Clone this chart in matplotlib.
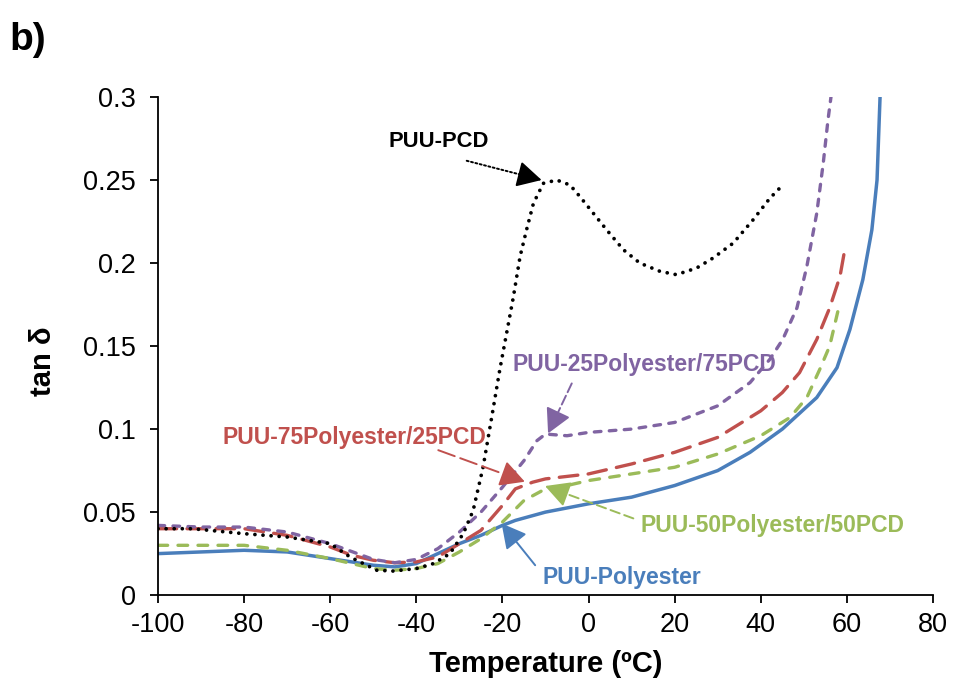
import numpy as np
import matplotlib.pyplot as plt

plt.rcParams['font.family'] = ['Liberation Sans', 'DejaVu Sans']
plt.rcParams['axes.unicode_minus'] = False

# PUU-Polyester (solid blue)
t_pe = [-100, -90, -80, -70, -60, -50, -45, -40, -35, -30, -25, -20, -17, -10, 0, 10, 20, 30, 37.5, 45, 53, 57.7, 60.7, 63.7, 65.8, 67, 67.7]
v_pe = [0.025, 0.026, 0.027, 0.026, 0.022, 0.018, 0.017, 0.019, 0.025, 0.031, 0.036, 0.042, 0.045, 0.050, 0.055, 0.059, 0.066, 0.075, 0.086, 0.100, 0.119, 0.137, 0.160, 0.190, 0.220, 0.250, 0.300]

# PUU-50Polyester/50PCD (green dash)
t_50 = [-100, -90, -80, -70, -60, -50, -45, -40, -35, -30, -25, -20, -15, -10, -5, 0, 10, 20, 30, 40, 46.8, 50.7, 53.7, 56, 58]
v_50 = [0.030, 0.030, 0.030, 0.027, 0.022, 0.016, 0.015, 0.016, 0.019, 0.026, 0.034, 0.044, 0.057, 0.064, 0.066, 0.069, 0.073, 0.077, 0.085, 0.096, 0.107, 0.119, 0.136, 0.150, 0.172]

# PUU-75Polyester/25PCD (red long dash)
t_75 = [-100, -90, -80, -70, -60, -55, -50, -45, -40, -35, -30, -25, -20, -17, -13, -10, 0, 10, 20, 30, 40, 45, 49, 53, 56, 58.4, 59.5]
v_75 = [0.040, 0.040, 0.040, 0.036, 0.029, 0.024, 0.021, 0.0195, 0.020, 0.023, 0.031, 0.039, 0.054, 0.064, 0.068, 0.070, 0.073, 0.079, 0.086, 0.095, 0.111, 0.122, 0.134, 0.154, 0.173, 0.192, 0.208]

# PUU-25Polyester/75PCD (purple short dash)
t_25 = [-100, -90, -80, -70, -60, -50, -45, -40, -35, -30, -25, -20, -15, -12, -10, -5, 0, 10, 20, 30, 37.5, 42.1, 45.1, 48.4, 50.7, 53, 54.5, 55.6, 56.3]
v_25 = [0.042, 0.041, 0.041, 0.038, 0.031, 0.0215, 0.0195, 0.0215, 0.028, 0.038, 0.050, 0.065, 0.081, 0.093, 0.097, 0.096, 0.098, 0.100, 0.104, 0.114, 0.128, 0.142, 0.154, 0.173, 0.198, 0.230, 0.260, 0.286, 0.300]

# PUU-PCD (black dotted)
t_pcd = [-100, -92, -80, -70, -60, -55.4, -49.2, -45.4, -40, -36, -32.2, -29.1, -26.8, -24.5, -22.5, -20.6, -17.5, -15.9, -14.4, -12.8, -10.5, -7.4, -4.3, -2, 1.1, 4.2, 8.1, 11.9, 16.6, 20.4, 25.1, 28.9, 33.6, 38.2, 42.1, 45.1]
v_pcd = [0.040, 0.040, 0.037, 0.035, 0.031, 0.023, 0.015, 0.0145, 0.016, 0.019, 0.025, 0.037, 0.051, 0.077, 0.107, 0.136, 0.179, 0.204, 0.220, 0.236, 0.248, 0.250, 0.247, 0.240, 0.230, 0.220, 0.208, 0.200, 0.195, 0.193, 0.197, 0.203, 0.212, 0.226, 0.239, 0.247]

blue = '#4A7EBB'
green = '#9BBB59'
red = '#C0504D'
purple = '#8064A2'

fig = plt.figure(figsize=(9.54, 6.88), dpi=100)
ax = fig.add_axes([0.1656, 0.135, 0.8124, 0.724])
ax.set_xlim(-100, 80)
ax.set_ylim(0, 0.3)

lw = 2.4
ax.plot(t_pe, v_pe, color=blue, lw=2.5, solid_capstyle='round')
ax.plot(t_50, v_50, color=green, lw=lw, dashes=(2.9, 3.1), dash_capstyle='round')
ax.plot(t_75, v_75, color=red, lw=lw, dashes=(5.6, 3.1), dash_capstyle='round')
ax.plot(t_25, v_25, color=purple, lw=lw, dashes=(2.0, 2.5), dash_capstyle='round')
ax.plot(t_pcd, v_pcd, color='black', lw=2.7, dashes=(0.01, 2.15), dash_capstyle='round')

# labels: (text, colour, text centre, arrow start, arrow tip, arrow line style, size)
fs = 16.5
head = '-|>,head_length=0.75,head_width=0.4'
notes = [
    ('PUU-PCD', 'black', (-34.7, 0.273), (-28.3, 0.2616), (-10.9, 0.250), (0, (1, 1.3)), 15.8),
    ('PUU-25Polyester/75PCD', purple, (13.0, 0.1386), (-3.9, 0.1275), (-9.4, 0.0974), (0, (5, 2)), fs),
    ('PUU-75Polyester/25PCD', red, (-54.3, 0.0952), (-34.9, 0.0873), (-14.8, 0.0683), (0, (9, 3)), fs),
    ('PUU-50Polyester/50PCD', green, (42.7, 0.0422), (10.4, 0.0462), (-10.1, 0.0657), (0, (5, 2.5)), fs),
    ('PUU-Polyester', blue, (7.7, 0.0107), (-12.4, 0.018), (-20.2, 0.0432), '-', fs),
]
for text, col, pos, start, tip, ls, size in notes:
    ax.text(pos[0], pos[1], text, color=col, fontsize=size, fontweight='bold', ha='center', va='center')
    # shaft in the label's line style
    ax.annotate('', xy=tip, xytext=start,
                arrowprops=dict(arrowstyle='-', color=col, lw=1.4, linestyle=ls,
                                shrinkA=0, shrinkB=8))
    # solid arrow head
    p0 = ax.transData.transform(start)
    p1 = ax.transData.transform(tip)
    d = (p1 - p0) / np.hypot(*(p1 - p0))
    ax.annotate('', xy=tip, xytext=(-d[0] * 12, -d[1] * 12), textcoords='offset points',
                arrowprops=dict(arrowstyle=head, color=col, lw=1.4,
                                shrinkA=0, shrinkB=0, mutation_scale=20))

ax.set_xticks(np.arange(-100, 81, 20))
ax.set_yticks([0, 0.05, 0.1, 0.15, 0.2, 0.25, 0.3])
ax.set_yticklabels(['0', '0.05', '0.1', '0.15', '0.2', '0.25', '0.3'])
ax.tick_params(direction='out', length=6, width=1.3, labelsize=19.5)
ax.tick_params(axis='x', pad=6)
ax.tick_params(axis='y', pad=10)
for s in ['top', 'right']:
    ax.spines[s].set_visible(False)
for s in ['left', 'bottom']:
    ax.spines[s].set_linewidth(1.3)

ax.set_xlabel('Temperature (ºC)', fontsize=21, fontweight='bold', labelpad=9)
ax.set_ylabel('tan δ', fontsize=21, fontweight='bold')
ax.yaxis.set_label_coords(-0.13, 0.47)

fig.text(0.010, 0.942, 'b)', fontsize=28, fontweight='bold', ha='left', va='center')

fig.savefig('out.png', dpi=100)
